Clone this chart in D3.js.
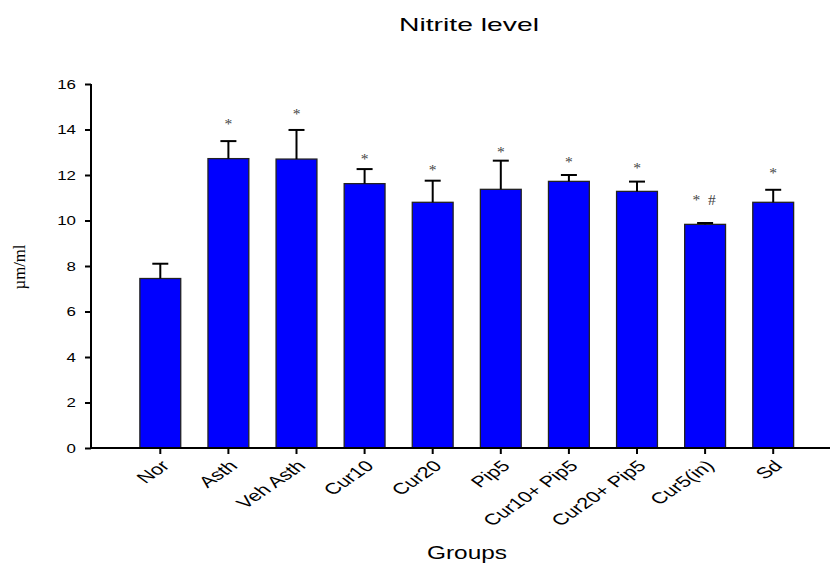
<!DOCTYPE html>
<html>
<head>
<meta charset="utf-8">
<script src="https://cdn.jsdelivr.net/npm/d3@7"></script>
<style>
  html, body { margin: 0; padding: 0; background: #fff; }
  svg { display: block; }
</style>
</head>
<body>
<svg id="chart" width="831" height="564"></svg>
<script>
// Nitrite level per treatment group (mean and SEM, µm/ml)
const groups = ["Nor", "Asth", "Veh Asth", "Cur10", "Cur20", "Pip5",
                "Cur10+ Pip5", "Cur20+ Pip5", "Cur5(in)", "Sd"];
const means  = [7.45, 12.72, 12.70, 11.62, 10.80, 11.37, 11.72, 11.28, 9.83, 10.80];
const errors = [0.65, 0.77, 1.28, 0.64, 0.95, 1.26, 0.28, 0.43, 0.06, 0.55];
// significance marks and the level they are printed at
const marks      = ["", "*", "*", "*", "*", "*", "*", "*", "*  #", "*"];
const markLevels = [0, 14.42, 14.86, 12.91, 12.43, 13.19, 12.75, 12.48, 10.93, 12.26];
const yTicks = [0, 2, 4, 6, 8, 10, 12, 14, 16];

const SANS = "'Liberation Sans', Arial, sans-serif";
const SERIF = "'Liberation Serif', 'Times New Roman', serif";

const svg = d3.select("#chart");
const x0 = 91, yBase = 448, yTop = 84, xEnd = 830;

const x = d3.scaleBand()
  .domain(groups)
  .range([126.25, 807.25])
  .paddingInner(0.4)
  .paddingOuter(0.2);

const y = d3.scaleLinear().domain([0, 16]).range([yBase, yTop]);

// title (wide lettering)
svg.append("text")
  .attr("x", 399).attr("y", 31)
  .attr("font-family", SANS)
  .attr("font-size", 18.5)
  .attr("textLength", 140)
  .attr("lengthAdjust", "spacingAndGlyphs")
  .text("Nitrite level");

// bars
svg.append("g").selectAll("rect")
  .data(groups)
  .join("rect")
  .attr("x", d => x(d))
  .attr("y", (d, i) => y(means[i]))
  .attr("width", x.bandwidth())
  .attr("height", (d, i) => yBase - y(means[i]))
  .attr("fill", "#0000ff")
  .attr("stroke", "#222")
  .attr("stroke-width", 1.3);

// error bars (upper only)
const eb = svg.append("g").attr("stroke", "#000").attr("stroke-width", 2);
groups.forEach((g, i) => {
  const cx = x(g) + x.bandwidth() / 2;
  const top = y(means[i] + errors[i]);
  eb.append("line")
    .attr("x1", cx).attr("x2", cx)
    .attr("y1", y(means[i])).attr("y2", top);
  eb.append("line")
    .attr("x1", cx - 8).attr("x2", cx + 8)
    .attr("y1", top).attr("y2", top);
});

// significance marks
svg.append("g").selectAll("text")
  .data(groups)
  .join("text")
  .attr("x", (d, i) => x(d) + x.bandwidth() / 2 + (i === 8 ? -1 : 0))
  .attr("y", (d, i) => y(markLevels[i]))
  .attr("dy", (d, i) => i === 8 ? "0.35em" : "0.6em")
  .attr("text-anchor", "middle")
  .attr("font-family", SERIF)
  .attr("font-size", 15.5)
  .attr("fill", "#444")
  .attr("xml:space", "preserve")
  .text((d, i) => marks[i]);

// y axis
const yAxis = svg.append("g")
  .attr("transform", `translate(${x0},0)`)
  .call(d3.axisLeft(y).tickValues(yTicks).tickSize(6));
yAxis.select(".domain").attr("stroke-width", 2).attr("d", `M0,${yTop}V${yBase}`);
yAxis.selectAll(".tick line").attr("stroke-width", 2);
yAxis.selectAll(".tick text")
  .attr("x", null)
  .attr("font-size", 13)
  .attr("font-family", SANS)
  .attr("fill", "#000")
  .attr("transform", "translate(-15,0) scale(1.3,1)");

// x axis
const xAxis = svg.append("g")
  .attr("transform", `translate(0,${yBase})`)
  .call(d3.axisBottom(x).tickSize(6));
xAxis.select(".domain").attr("stroke-width", 2).attr("d", `M${x0 - 1},0H${xEnd}`);
xAxis.selectAll(".tick line").attr("stroke-width", 2);
xAxis.selectAll(".tick text")
  .attr("y", null)
  .attr("dy", "0.35em")
  .attr("font-size", 15.5)
  .attr("font-family", SANS)
  .attr("fill", "#000")
  .attr("text-anchor", "end")
  .attr("transform", "translate(5,15) scale(1.4,1) rotate(-44)");

// axis titles
svg.append("text")
  .attr("transform", "translate(25,267) rotate(-90)")
  .attr("text-anchor", "middle")
  .attr("font-family", SERIF)
  .attr("font-size", 17)
  .attr("textLength", 45)
  .attr("lengthAdjust", "spacingAndGlyphs")
  .text("µm/ml");

svg.append("text")
  .attr("x", 427).attr("y", 559)
  .attr("font-family", SANS)
  .attr("font-size", 18)
  .attr("textLength", 80)
  .attr("lengthAdjust", "spacingAndGlyphs")
  .text("Groups");
</script>
</body>
</html>
